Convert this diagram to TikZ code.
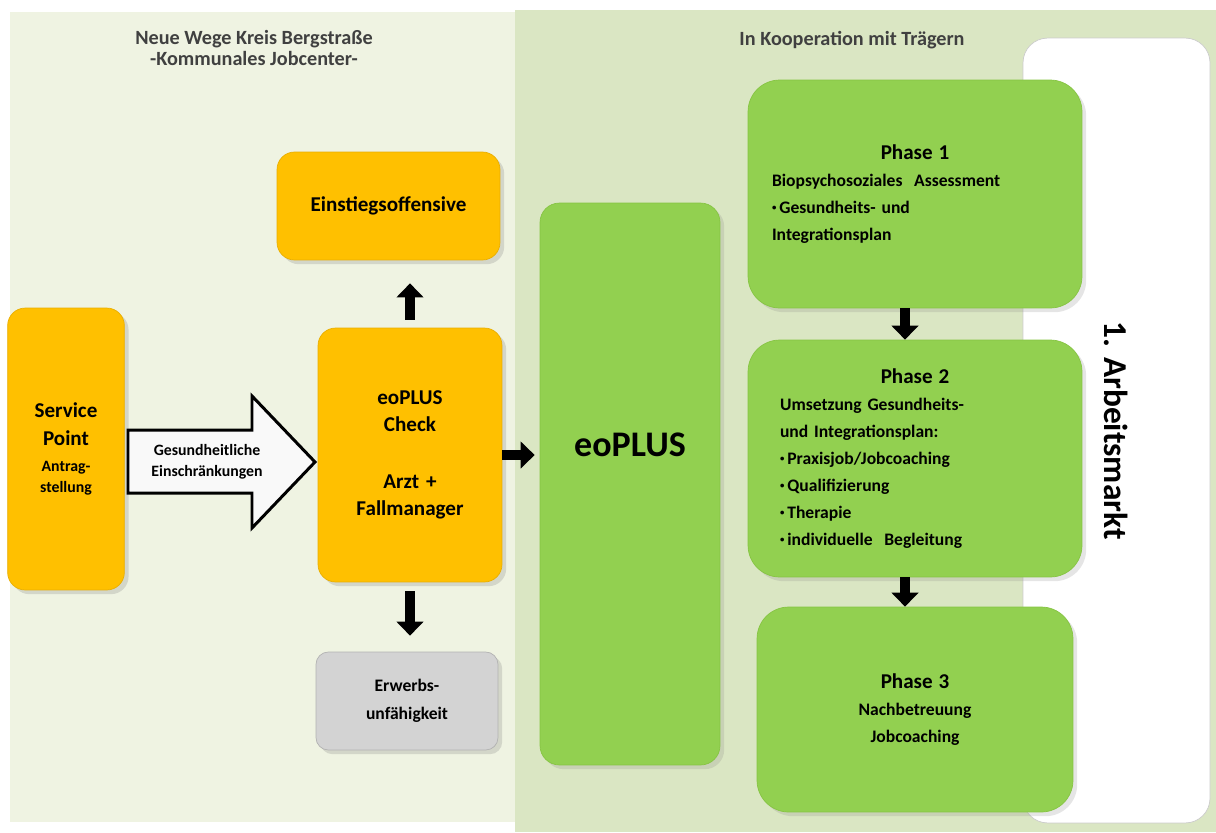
\documentclass[tikz,border=0pt]{standalone}
\usepackage{fontspec}
\setmainfont{Carlito}
\usetikzlibrary{positioning,arrows.meta,shadows}
\definecolor{jcorange}{HTML}{FFC000}
\definecolor{jcorangedark}{HTML}{E9AE00}
\definecolor{jcgreen}{HTML}{92D050}
\definecolor{jcgreendark}{HTML}{86C443}
\definecolor{jcgray}{HTML}{D3D3D3}
\definecolor{leftpanel}{HTML}{EFF3E2}
\definecolor{rightpanel}{HTML}{DAE6C3}
\definecolor{headgray}{HTML}{404040}
\newcommand{\smallbul}{\raisebox{0.35ex}{\fontsize{5}{5}\selectfont\textbullet}\,}
\begin{document}
\begin{tikzpicture}[x=0.02cm,y=-0.02cm,
  mysize/.style 2 args={font=\fontsize{#1}{#2}\selectfont\bfseries},
  orangebox/.style={draw=jcorangedark, fill=jcorange, rounded corners=10pt, align=center, drop shadow={opacity=0.25}},
  greenbox/.style={draw=jcgreendark, fill=jcgreen, rounded corners=18pt, drop shadow={opacity=0.2}},
  headtxt/.style={mysize={11.5}{11.5}, text=headgray, align=center},
  blkarrow/.style={line width=5.7pt, -{Triangle[width=15pt,length=8pt]}}]
\useasboundingbox (0,0) rectangle (1216,832);
\fill[leftpanel] (10,12) rectangle (515,822);
\fill[rightpanel] (515,10) rectangle (1216,832);

\node[headtxt] (kjc) at (254,48) {Neue Wege Kreis Bergstraße\\-Kommunales Jobcenter-};
\node[headtxt] (traeger) at (852,40) {In Kooperation mit Trägern};

\node[draw=gray!40, fill=white, rounded corners=14pt, rotate=-90, minimum width=15.7cm, minimum height=3.74cm,
  mysize={19}{22}] (markt) at (1116.5,430.5) {1. Arbeitsmarkt};

\node[orangebox, minimum width=2.24cm, minimum height=5.64cm, text width=2.1cm, font=\bfseries] (sp) at (66,449)
  {\fontsize{12}{16}\selectfont Service\\Point\par\vspace{4.5pt}\fontsize{9}{10.5}\selectfont Antrag-\\stellung};
\node[orangebox, minimum width=3.68cm, minimum height=5.08cm, text width=3.4cm, mysize={12}{15.3}] (check) at (410,455)
  {eoPLUS\\Check\\[17pt]Arzt +\\Fallmanager};
\node[orangebox, minimum width=4.46cm, minimum height=2.16cm, mysize={12}{15}] (einst) at (388.5,206) {Einstiegsoffensive};
\node[orangebox, draw=gray!60, fill=jcgray, rounded corners=7pt, minimum width=3.64cm, minimum height=1.96cm,
  text width=3.4cm, mysize={10}{16}] (erwerb) at (407,701) {Erwerbs-\\unfähigkeit};

\draw[line width=1.7pt, fill=gray!5] (128,430) -- (252,430) -- (252,396) -- (315,462) -- (252,528) -- (252,493) -- (128,493) -- cycle;
\node[mysize={9}{12}, align=center, text width=2.6cm] (gesund) at (207,462) {Gesundheitliche\\Einschränkungen};

\node[greenbox, rounded corners=11pt, minimum width=3.6cm, minimum height=11.24cm] (eoplus) at (630,484) {};
\node[mysize={20.5}{24}] (eopluslbl) at ([yshift=0.78cm]eoplus.center) {eoPLUS};

\node[greenbox, minimum width=6.68cm, minimum height=4.56cm, text width=5.72cm, align=left, mysize={10}{15.3}] (ph1) at (915,194)
  {{\centering\fontsize{12}{15.3}\selectfont Phase 1\par}Biopsychosoziales\ \ Assessment\\\smallbul Gesundheits- und\\Integrationsplan};
\node[greenbox, minimum width=6.68cm, minimum height=4.74cm, text width=5.4cm, align=left, mysize={10}{15.3}] (ph2) at (915,458.5)
  {{\centering\fontsize{12}{15.3}\selectfont Phase 2\par}Umsetzung Gesundheits-\\und Integrationsplan:\\\smallbul Praxisjob/Jobcoaching\\\smallbul Qualifizierung\\\smallbul Therapie\\\smallbul individuelle\ \ Begleitung};
\node[greenbox, minimum width=6.32cm, minimum height=4.1cm, text width=5.4cm, align=center, mysize={10}{15.3}] (ph3) at (915,709.5)
  {{\fontsize{12}{15.3}\selectfont Phase 3\par}Nachbetreuung\\Jobcoaching};

\draw[blkarrow, shorten <=0.16cm, shorten >=0.46cm] (check.north) -- (check.north |- einst.south);
\draw[blkarrow, shorten <=0.18cm, shorten >=0.32cm] (check.south) -- (check.south |- erwerb.north);
\draw[blkarrow, shorten >=0.1cm] (check.east) -- (check.east -| eoplus.west);
\draw[blkarrow] ([xshift=-0.2cm]ph1.south) -- ([xshift=-0.2cm]ph2.north);
\draw[blkarrow] ([xshift=-0.2cm]ph2.south) -- ([xshift=-0.2cm]ph3.north);
\end{tikzpicture}
\end{document}
